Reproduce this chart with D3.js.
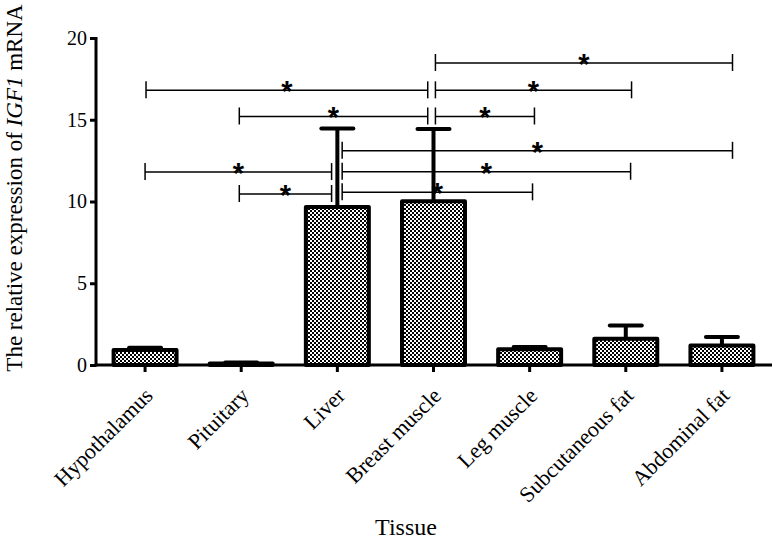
<!DOCTYPE html>
<html><head><meta charset="utf-8">
<script src="https://cdn.jsdelivr.net/npm/d3@7"></script>
<style>body{margin:0;background:#fff}svg{display:block}</style>
</head><body>
<svg id="chart" width="776" height="540"></svg>
<script>
const categories = ["Hypothalamus","Pituitary","Liver","Breast muscle","Leg muscle","Subcutaneous fat","Abdominal fat"];
const means = [0.92, 0.09, 9.66, 10.01, 0.96, 1.61, 1.2];
const errors = [0.14, 0.06, 4.81, 4.42, 0.14, 0.81, 0.52];
const yTicks = [0, 5, 10, 15, 20];
// significance brackets: start / end position (category index units), height (y value), label
const bracketFrom = [0.01, 0.98, 0.0, 0.98, 3.02, 3.02, 3.02, 2.05, 2.05, 2.05];
const bracketTo   = [2.94, 2.94, 1.94, 1.94, 6.11, 5.06, 4.05, 6.11, 5.05, 4.03];
const bracketY    = [16.8, 15.2, 11.8, 10.46, 18.47, 16.8, 15.2, 13.1, 11.82, 10.56];
const bracketLabel = ["*","*","*","*","*","*","*","*","*","*"];

const svg = d3.select("#chart");
const serif = "'Liberation Serif','Times New Roman',serif";

const x = d3.scaleBand().domain(categories).range([97, 770]).paddingInner(0.345).paddingOuter(0.1725);
const y = d3.scaleLinear().domain([0, 20]).range([365, 38]);
const xPos = d3.scaleLinear().domain([0, 6])
  .range([x(categories[0]) + x.bandwidth()/2, x(categories[6]) + x.bandwidth()/2]);

// pattern
const defs = svg.append("defs");
const pat = defs.append("pattern").attr("id","checks").attr("patternUnits","userSpaceOnUse")
  .attr("width",4).attr("height",4);
pat.append("rect").attr("width",4).attr("height",4).attr("fill","#fff");
pat.append("rect").attr("x",0).attr("y",0).attr("width",2).attr("height",2).attr("fill","#000");
pat.append("rect").attr("x",2).attr("y",2).attr("width",2).attr("height",2).attr("fill","#000");

// bars
const bars = svg.append("g");
categories.forEach((c,i) => {
  const cx = x(c) + x.bandwidth()/2;
  // error bar (upper only)
  bars.append("line").attr("x1",cx).attr("x2",cx)
    .attr("y1",y(means[i])).attr("y2",y(means[i]+errors[i]))
    .attr("stroke","#000").attr("stroke-width",4);
  bars.append("line").attr("x1",cx-16).attr("x2",cx+16)
    .attr("y1",y(means[i]+errors[i])).attr("y2",y(means[i]+errors[i]))
    .attr("stroke","#000").attr("stroke-width",4).attr("stroke-linecap","round");
  bars.append("rect").attr("x",x(c)).attr("width",x.bandwidth())
    .attr("y",y(means[i])).attr("height",y(0)-y(means[i]))
    .attr("fill","url(#checks)").attr("stroke","#000").attr("stroke-width",4)
    .attr("stroke-linejoin","round");
});

// axes
const yAxis = svg.append("g").attr("transform","translate(96,0)")
  .call(d3.axisLeft(y).tickValues(yTicks).tickSize(6).tickPadding(3).tickSizeOuter(0));
yAxis.select(".domain").remove();
yAxis.append("line").attr("x1",0).attr("x2",0).attr("y1",y(0)+1.5).attr("y2",y(20)-1)
  .attr("stroke","#000").attr("stroke-width",3);
yAxis.selectAll(".tick line").attr("stroke-width",3);
yAxis.selectAll(".tick text").attr("font-family",serif).attr("font-size",20).attr("fill","#000");

const xAxis = svg.append("g").attr("transform",`translate(0,${y(0)})`)
  .call(d3.axisBottom(x).tickSize(7).tickSizeOuter(0));
xAxis.select(".domain").remove();
xAxis.append("line").attr("x1",95).attr("x2",772).attr("y1",0).attr("y2",0)
  .attr("stroke","#000").attr("stroke-width",3);
xAxis.selectAll(".tick line").attr("stroke-width",3);
xAxis.selectAll(".tick text").attr("font-family",serif).attr("font-size",22).attr("fill","#000")
  .attr("text-anchor","end").attr("dy",null).attr("y",null)
  .attr("transform","translate(9,32) rotate(-45)");

// brackets
const br = svg.append("g");
bracketY.forEach((v,i) => {
  const x1 = xPos(bracketFrom[i]), x2 = xPos(bracketTo[i]), yy = y(v);
  br.append("line").attr("x1",x1).attr("x2",x2).attr("y1",yy).attr("y2",yy)
    .attr("stroke","#000").attr("stroke-width",1.5);
  [x1,x2].forEach(xx => br.append("line").attr("x1",xx).attr("x2",xx)
    .attr("y1",yy-9).attr("y2",yy+8).attr("stroke","#000").attr("stroke-width",1.5));
  br.append("text").attr("x",(x1+x2)/2).attr("y",yy+11).attr("text-anchor","middle")
    .attr("font-family","'Liberation Sans',Arial,sans-serif").attr("font-size",29)
    .attr("font-weight","bold")
    .text(bracketLabel[i]);
});

// axis titles
const yt = svg.append("text").attr("transform","translate(22,188) rotate(-90)")
  .attr("text-anchor","middle").attr("font-family",serif).attr("font-size",23).attr("fill","#000");
yt.append("tspan").text("The relative expression of ");
yt.append("tspan").attr("font-style","italic").text("IGF1");
yt.append("tspan").text(" mRNA");

svg.append("text").attr("x",406).attr("y",535).attr("text-anchor","middle")
  .attr("font-family",serif).attr("font-size",24).attr("fill","#000").text("Tissue");
</script>
</body></html>
